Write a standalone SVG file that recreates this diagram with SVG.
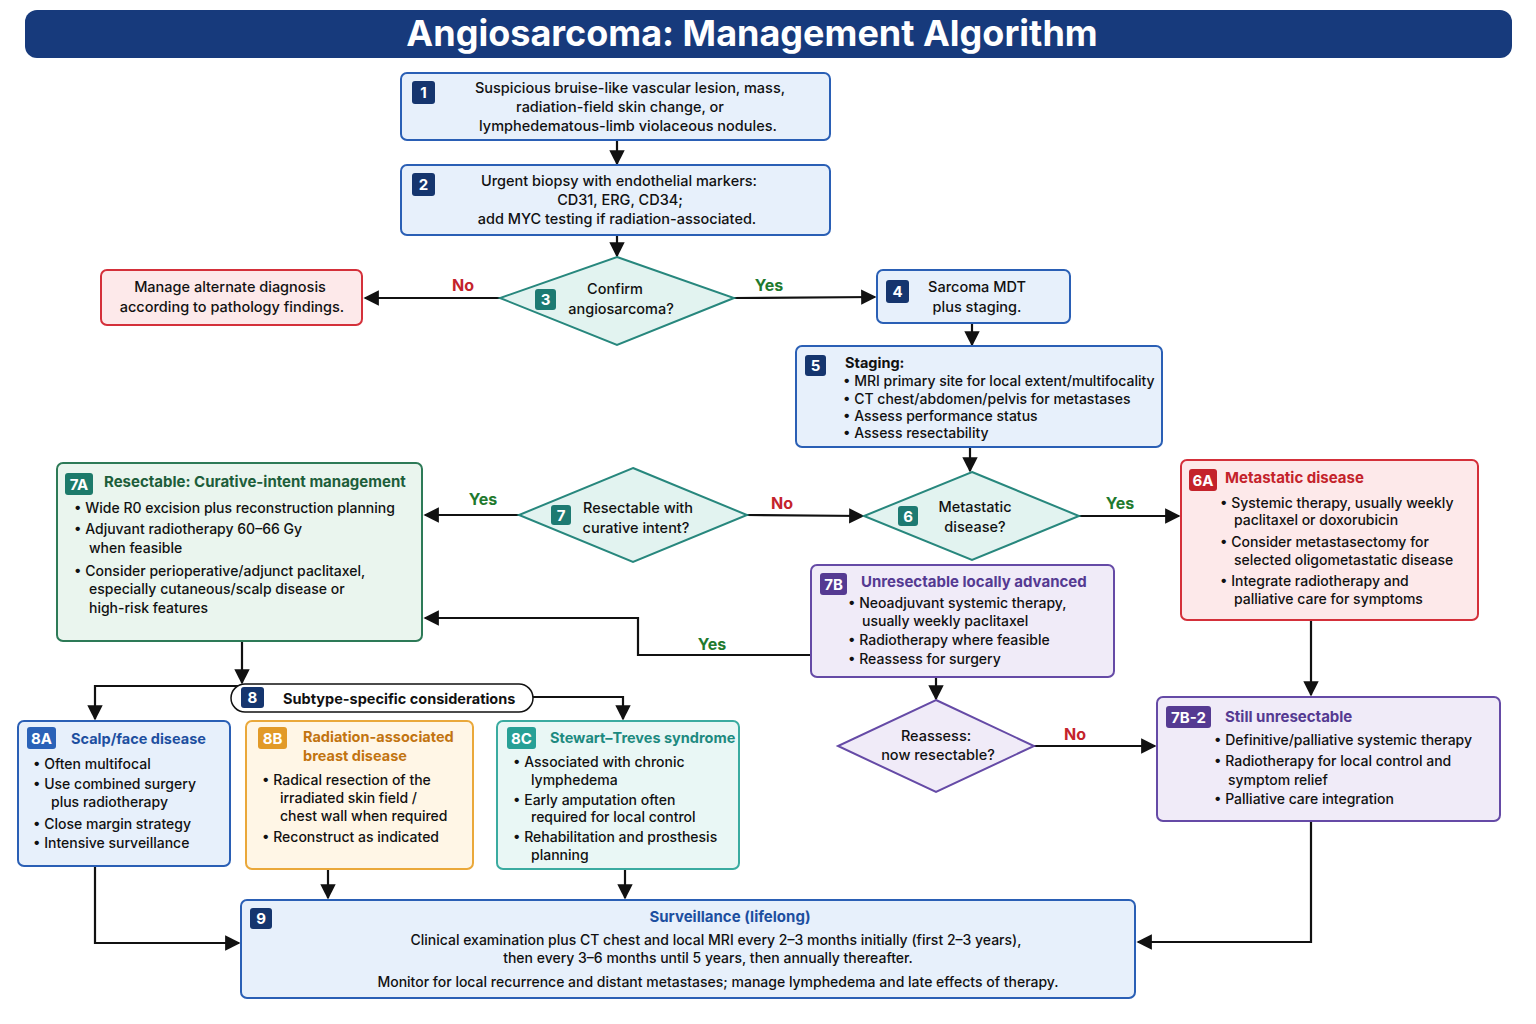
<svg xmlns="http://www.w3.org/2000/svg" width="1536" height="1024" viewBox="0 0 1536 1024">
<defs>
<marker id="ah" viewBox="0 0 10 10" refX="9" refY="5" markerWidth="7" markerHeight="7" orient="auto"><path d="M0,0 L10,5 L0,10 z" fill="#111"/></marker>
<style>
text{font-family:Inter,"Open Sans","Liberation Sans",sans-serif;font-size:14.5px;fill:#111;font-weight:500}
.c{text-anchor:middle}
.s{font-size:14px}
.b{font-weight:700}
.bt{fill:#fff;font-weight:700;text-anchor:middle;font-size:15px}
.blue{fill:#e7f0fb;stroke:#2a5fb5;stroke-width:2}
.red{fill:#fde9ea;stroke:#d4303a;stroke-width:2}
.grn{fill:#eaf5ee;stroke:#2d7a57;stroke-width:2}
.teal{fill:#e2f3f0;stroke:#27877d;stroke-width:2}
.pur{fill:#f0ebf8;stroke:#654aa6;stroke-width:2}
.org{fill:#fff6e6;stroke:#eaa83a;stroke-width:2}
.tl{fill:#e9f7f5;stroke:#3aaba0;stroke-width:2}
.con{fill:none;stroke:#111;stroke-width:2.2;marker-end:url(#ah)}
.ln{fill:none;stroke:#111;stroke-width:2.2}
.no{fill:#c4232b;font-weight:700;font-size:16px}
.yes{fill:#1f7a2e;font-weight:700;font-size:16px}
</style>
</defs>
<rect x="0" y="0" width="1536" height="1024" fill="#fff"/>
<g id="title"><rect x="25" y="10" width="1487" height="48" rx="12" fill="#173a7c"/><text x="752" y="46" class="c b" style="fill:#fff;font-size:36px">Angiosarcoma: Management Algorithm</text></g>

<g id="connectors">
<path class="con" d="M617,140 V164"/>
<path class="con" d="M617,235 V256"/>
<path class="con" d="M500,298 H365"/>
<path class="con" d="M734,298 L875,297"/>
<path class="con" d="M972,323 V345"/>
<path class="con" d="M970,447 V471"/>
<path class="con" d="M1079,516 H1179"/>
<path class="con" d="M747,515 L863,516"/>
<path class="con" d="M519,515 H425"/>
<path class="con" d="M811,655 H638 V618 H425"/>
<path class="con" d="M936,677 V699"/>
<path class="con" d="M1034,746 H1155"/>
<path class="con" d="M1311,620 V695"/>
<path class="con" d="M1311,821 V942 H1138"/>
<path class="con" d="M242,641 V683"/>
<path class="con" d="M242,686 H95 V719"/>
<path class="con" d="M533,697 H623 V719"/>
<path class="con" d="M328,869 V898"/>
<path class="con" d="M625,869 V898"/>
<path class="con" d="M95,866 V943 H239"/>
<text x="463" y="291" class="no c">No</text>
<text x="769" y="291" class="yes c">Yes</text>
<text x="1120" y="509" class="yes c">Yes</text>
<text x="782" y="509" class="no c">No</text>
<text x="483" y="505" class="yes c">Yes</text>
<text x="712" y="650" class="yes c">Yes</text>
<text x="1075" y="740" class="no c">No</text>
</g>

<g id="n1"><rect x="401" y="73" width="429" height="67" rx="6" class="blue"/><rect x="412" y="81" width="23" height="23" rx="3" fill="#15356e"/><text x="423.5" y="98" class="bt">1</text>
<text x="630" y="93" class="c">Suspicious bruise-like vascular lesion, mass,</text><text x="620" y="112" class="c">radiation-field skin change, or</text><text x="628" y="131" class="c">lymphedematous-limb violaceous nodules.</text></g>

<g id="n2"><rect x="401" y="165" width="429" height="70" rx="6" class="blue"/><rect x="412" y="173" width="23" height="23" rx="3" fill="#15356e"/><text x="423.5" y="190" class="bt">2</text>
<text x="619" y="186" class="c">Urgent biopsy with endothelial markers:</text><text x="620" y="205" class="c">CD31, ERG, CD34;</text><text x="617" y="224" class="c">add MYC testing if radiation-associated.</text></g>

<g id="n3"><polygon points="617,257 734,298 617,345 500,298" class="teal"/><rect x="535" y="289" width="21" height="21" rx="3" fill="#1d7a72"/><text x="545.5" y="305" class="bt">3</text>
<text x="615" y="294" class="c">Confirm</text><text x="621" y="314" class="c">angiosarcoma?</text></g>

<g id="alt"><rect x="101" y="270" width="261" height="55" rx="6" class="red"/><text x="230" y="292" class="c">Manage alternate diagnosis</text><text x="232" y="312" class="c">according to pathology findings.</text></g>

<g id="n4"><rect x="877" y="270" width="193" height="53" rx="6" class="blue"/><rect x="886" y="280" width="23" height="23" rx="3" fill="#15356e"/><text x="897.5" y="297" class="bt">4</text>
<text x="977" y="292" class="c">Sarcoma MDT</text><text x="977" y="312" class="c">plus staging.</text></g>

<g id="n5"><rect x="796" y="346" width="366" height="101" rx="6" class="blue"/><rect x="805" y="355" width="21" height="21" rx="3" fill="#15356e"/><text x="815.5" y="371" class="bt">5</text>
<text x="845" y="368" class="b">Staging:</text>
<text x="843" y="386" class="s">• MRI primary site for local extent/multifocality</text>
<text x="843" y="404" class="s">• CT chest/abdomen/pelvis for metastases</text>
<text x="843" y="421" class="s">• Assess performance status</text>
<text x="843" y="438" class="s">• Assess resectability</text></g>

<g id="n6"><polygon points="972,472 1079,516 972,560 864,516" class="teal"/><rect x="898" y="506" width="20" height="20" rx="3" fill="#1d7a72"/><text x="908" y="522" class="bt">6</text>
<text x="975" y="512" class="c">Metastatic</text><text x="975" y="532" class="c">disease?</text></g>

<g id="n6a"><rect x="1181" y="460" width="297" height="160" rx="6" class="red"/><rect x="1189" y="469" width="28" height="22" rx="3" fill="#c4232b"/><text x="1203" y="486" class="bt">6A</text>
<text x="1225" y="483" class="b" style="fill:#c4232b;font-size:15px">Metastatic disease</text>
<text x="1220" y="508" class="s">•  Systemic therapy, usually weekly</text><text x="1234" y="525" class="s">paclitaxel or doxorubicin</text>
<text x="1220" y="547" class="s">•  Consider metastasectomy for</text><text x="1234" y="565" class="s">selected oligometastatic disease</text>
<text x="1220" y="586" class="s">•  Integrate radiotherapy and</text><text x="1234" y="604" class="s">palliative care for symptoms</text></g>

<g id="n7"><polygon points="633,468 747,515 633,562 519,515" class="teal"/><rect x="551" y="505" width="20" height="20" rx="3" fill="#1d7a72"/><text x="561" y="521" class="bt">7</text>
<text x="638" y="513" class="c">Resectable with</text><text x="636" y="533" class="c">curative intent?</text></g>

<g id="n7a"><rect x="57" y="463" width="365" height="178" rx="6" class="grn"/><rect x="65" y="473" width="28" height="22" rx="3" fill="#1d7a6a"/><text x="79" y="490" class="bt">7A</text>
<text x="104" y="487" class="b" style="fill:#1d5e3a;font-size:15px">Resectable: Curative-intent management</text>
<text x="74" y="513" class="s">•  Wide R0 excision plus reconstruction planning</text>
<text x="74" y="534" class="s">•  Adjuvant radiotherapy 60–66 Gy</text><text x="89" y="553" class="s">when feasible</text>
<text x="74" y="576" class="s">•  Consider perioperative/adjunct paclitaxel,</text><text x="89" y="594" class="s">especially cutaneous/scalp disease or</text><text x="89" y="613" class="s">high-risk features</text></g>

<g id="n7b"><rect x="811" y="565" width="303" height="112" rx="6" class="pur"/><rect x="820" y="573" width="27" height="22" rx="3" fill="#553a92"/><text x="833.5" y="590" class="bt">7B</text>
<text x="861" y="587" class="b" style="fill:#553a92;font-size:15px">Unresectable locally advanced</text>
<text x="848" y="608" class="s">•  Neoadjuvant systemic therapy,</text><text x="862" y="626" class="s">usually weekly paclitaxel</text>
<text x="848" y="645" class="s">•  Radiotherapy where feasible</text>
<text x="848" y="664" class="s">•  Reassess for surgery</text></g>

<g id="nr"><polygon points="936,700 1034,746 936,792 838,746" class="pur"/><text x="936" y="741" class="c">Reassess:</text><text x="938" y="760" class="c">now resectable?</text></g>

<g id="n7b2"><rect x="1157" y="697" width="343" height="124" rx="6" class="pur"/><rect x="1166" y="706" width="45" height="22" rx="3" fill="#553a92"/><text x="1188.5" y="723" class="bt">7B-2</text>
<text x="1225" y="722" class="b" style="fill:#553a92;font-size:15px">Still unresectable</text>
<text x="1214" y="745" class="s">•  Definitive/palliative systemic therapy</text>
<text x="1214" y="766" class="s">•  Radiotherapy for local control and</text><text x="1228" y="785" class="s">symptom relief</text>
<text x="1214" y="804" class="s">•  Palliative care integration</text></g>

<g id="n8"><rect x="231" y="684" width="302" height="28" rx="14" fill="#fff" stroke="#111" stroke-width="1.5"/><rect x="241" y="687" width="23" height="21" rx="3" fill="#15356e"/><text x="252.5" y="703" class="bt">8</text><text x="283" y="704" class="b">Subtype-specific considerations</text></g>

<g id="n8a"><rect x="18" y="721" width="212" height="145" rx="6" class="blue"/><rect x="27" y="727" width="29" height="22" rx="3" fill="#2a62b8"/><text x="41.5" y="744" class="bt">8A</text>
<text x="71" y="744" class="b" style="fill:#1d4fa0">Scalp/face disease</text>
<text x="33" y="769" class="s">•  Often multifocal</text>
<text x="33" y="789" class="s">•  Use combined surgery</text><text x="51" y="807" class="s">plus radiotherapy</text>
<text x="33" y="829" class="s">•  Close margin strategy</text>
<text x="33" y="848" class="s">•  Intensive surveillance</text></g>

<g id="n8b"><rect x="246" y="721" width="227" height="148" rx="6" class="org"/><rect x="258" y="727" width="29" height="22" rx="3" fill="#e29a28"/><text x="272.5" y="744" class="bt">8B</text>
<text x="303" y="742" class="b" style="fill:#c27410">Radiation-associated</text><text x="303" y="761" class="b" style="fill:#c27410">breast disease</text>
<text x="262" y="785" class="s">•  Radical resection of the</text><text x="280" y="803" class="s">irradiated skin field /</text><text x="280" y="821" class="s">chest wall when required</text>
<text x="262" y="842" class="s">•  Reconstruct as indicated</text></g>

<g id="n8c"><rect x="497" y="721" width="242" height="148" rx="6" class="tl"/><rect x="507" y="727" width="29" height="22" rx="3" fill="#27a096"/><text x="521.5" y="744" class="bt">8C</text>
<text x="550" y="743" class="b" style="fill:#1d8a80">Stewart–Treves syndrome</text>
<text x="513" y="767" class="s">•  Associated with chronic</text><text x="531" y="785" class="s">lymphedema</text>
<text x="513" y="805" class="s">•  Early amputation often</text><text x="531" y="822" class="s">required for local control</text>
<text x="513" y="842" class="s">•  Rehabilitation and prosthesis</text><text x="531" y="860" class="s">planning</text></g>

<g id="n9"><rect x="241" y="900" width="894" height="98" rx="6" class="blue"/><rect x="250" y="908" width="22" height="21" rx="3" fill="#15356e"/><text x="261" y="924" class="bt">9</text>
<text x="730" y="922" class="c b" style="fill:#1d4fa0;font-size:15px">Surveillance (lifelong)</text>
<text x="716" y="945" class="c s">Clinical examination plus CT chest and local MRI every 2–3 months initially (first 2–3 years),</text>
<text x="708" y="963" class="c s">then every  3–6 months until 5 years, then annually thereafter.</text>
<text x="718" y="987" class="c s">Monitor for local recurrence and distant metastases; manage lymphedema and late effects of therapy.</text></g>
</svg>
